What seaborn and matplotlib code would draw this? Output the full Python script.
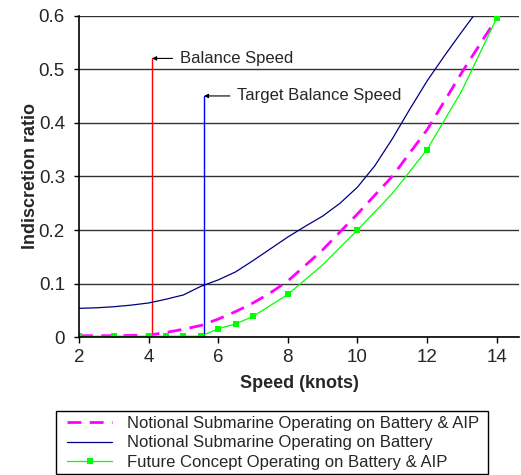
import seaborn as sns
import pandas as pd
import numpy as np
import matplotlib.pyplot as plt
from matplotlib.patches import Rectangle

# Notional submarine, battery & AIP (magenta dashed)
aip_speed = [2, 3, 4, 4.5, 5, 5.5, 6, 6.5, 7, 7.5, 8, 9, 10, 11, 12, 13, 14]
aip_ratio = [0.003, 0.003, 0.004, 0.009, 0.015, 0.022, 0.034, 0.048, 0.064, 0.083, 0.105, 0.163, 0.23, 0.3, 0.387, 0.494, 0.595]

# Notional submarine, battery only (navy)
bat_speed = [2, 2.5, 3, 3.5, 4, 4.5, 5, 5.5, 6, 6.5, 7, 7.5, 8, 8.5, 9, 9.5, 10, 10.5, 11, 11.5, 12, 12.5, 13, 13.4]
bat_ratio = [0.054, 0.055, 0.057, 0.060, 0.064, 0.071, 0.079, 0.095, 0.107, 0.122, 0.143, 0.165, 0.187, 0.207, 0.226, 0.25, 0.28, 0.32, 0.37, 0.425, 0.478, 0.525, 0.57, 0.605]

# Future concept, battery & AIP (green, squares at measured points)
fut_speed = [2, 3, 4, 4.5, 5, 5.5, 6, 6.5, 7, 8, 9, 10, 11, 12, 13, 14]
fut_ratio = [0.002, 0.002, 0.002, 0.002, 0.002, 0.002, 0.016, 0.025, 0.039, 0.08, 0.135, 0.2, 0.268, 0.35, 0.46, 0.595]
fut_marked = [0, 1, 2, 3, 4, 5, 6, 7, 8, 9, 11, 13, 15]

# balance speed markers
balance_labels = ["Balance Speed", "Target Balance Speed"]
balance_x = [4.1, 5.59]
balance_top = [0.52, 0.45]
balance_colors = ["#ff0000", "#0000ff"]
label_x = [4.9, 6.55]

legend_labels = ["Notional Submarine Operating on Battery & AIP",
                 "Notional Submarine Operating on Battery",
                 "Future Concept Operating on Battery & AIP"]

sns.set_style("white")
plt.rcParams['font.family'] = ['Liberation Sans', 'DejaVu Sans']

W, H = 521, 475
fig = plt.figure(figsize=(W/100, H/100), dpi=100)
ax = fig.add_axes([79/W, 1 - 337.3/H, 440/W, 321.8/H])

ax.set_xlim(2, 14.64)
ax.set_ylim(0, 0.6)
ax.set_yticks([0, 0.1, 0.2, 0.3, 0.4, 0.5, 0.6])
ax.set_yticklabels(["0", "0.1", "0.2", "0.3", "0.4", "0.5", "0.6"])
ax.set_xticks([2, 4, 6, 8, 10, 12, 14])
ax.yaxis.grid(True, color="#333333", linewidth=1.0)
ax.set_axisbelow(True)

for x, top, c in zip(balance_x, balance_top, balance_colors):
    ax.plot([x, x], [0, top], color=c, linewidth=1.0)

sns.lineplot(x=aip_speed, y=aip_ratio, ax=ax, color="#ff00ff", linewidth=2.0,
             label=legend_labels[0], sort=False)
ax.lines[-1].set_dashes([5, 3])
sns.lineplot(x=bat_speed, y=bat_ratio, ax=ax, color="#000080", linewidth=0.9,
             label=legend_labels[1], sort=False)
sns.lineplot(x=fut_speed, y=fut_ratio, ax=ax, color="#00ff00", linewidth=0.9,
             marker="s", markersize=5, markeredgewidth=0, markevery=fut_marked,
             label=legend_labels[2], sort=False)

for name, x, top, tx in zip(balance_labels, balance_x, balance_top, label_x):
    ax.annotate(name, xy=(x, top), xytext=(tx, top), fontsize=12, va="center",
                arrowprops=dict(arrowstyle="-|>", color="black", lw=0.8,
                                mutation_scale=6, shrinkA=3, shrinkB=0))

for side in ["top", "right"]:
    ax.spines[side].set_visible(False)
for side in ["left", "bottom"]:
    ax.spines[side].set_color("black")
    ax.spines[side].set_linewidth(1.2)
ax.tick_params(axis="both", direction="out", width=1, color="black",
               labelsize=13.5, bottom=True, left=True)
ax.tick_params(axis="x", length=4.2, pad=4.5)
ax.tick_params(axis="y", length=3.6, pad=6.5)

ax.set_xlabel("Speed (knots)", fontsize=13, fontweight="bold", labelpad=6)
ax.set_ylabel("Indiscretion ratio", fontsize=13, fontweight="bold", labelpad=0)

leg = ax.legend(loc="upper left", bbox_to_anchor=(67/W, 1 - 416/H),
                bbox_transform=fig.transFigure, fontsize=12, frameon=False,
                borderpad=0, labelspacing=0.26, handlelength=2.7,
                handletextpad=0.9, borderaxespad=0)
fig.patches.append(Rectangle((56/W, 1 - 474/H), 432/W, 63/H, transform=fig.transFigure,
                             fill=False, edgecolor="black", linewidth=1.0))

fig.savefig("out.png", dpi=100)
